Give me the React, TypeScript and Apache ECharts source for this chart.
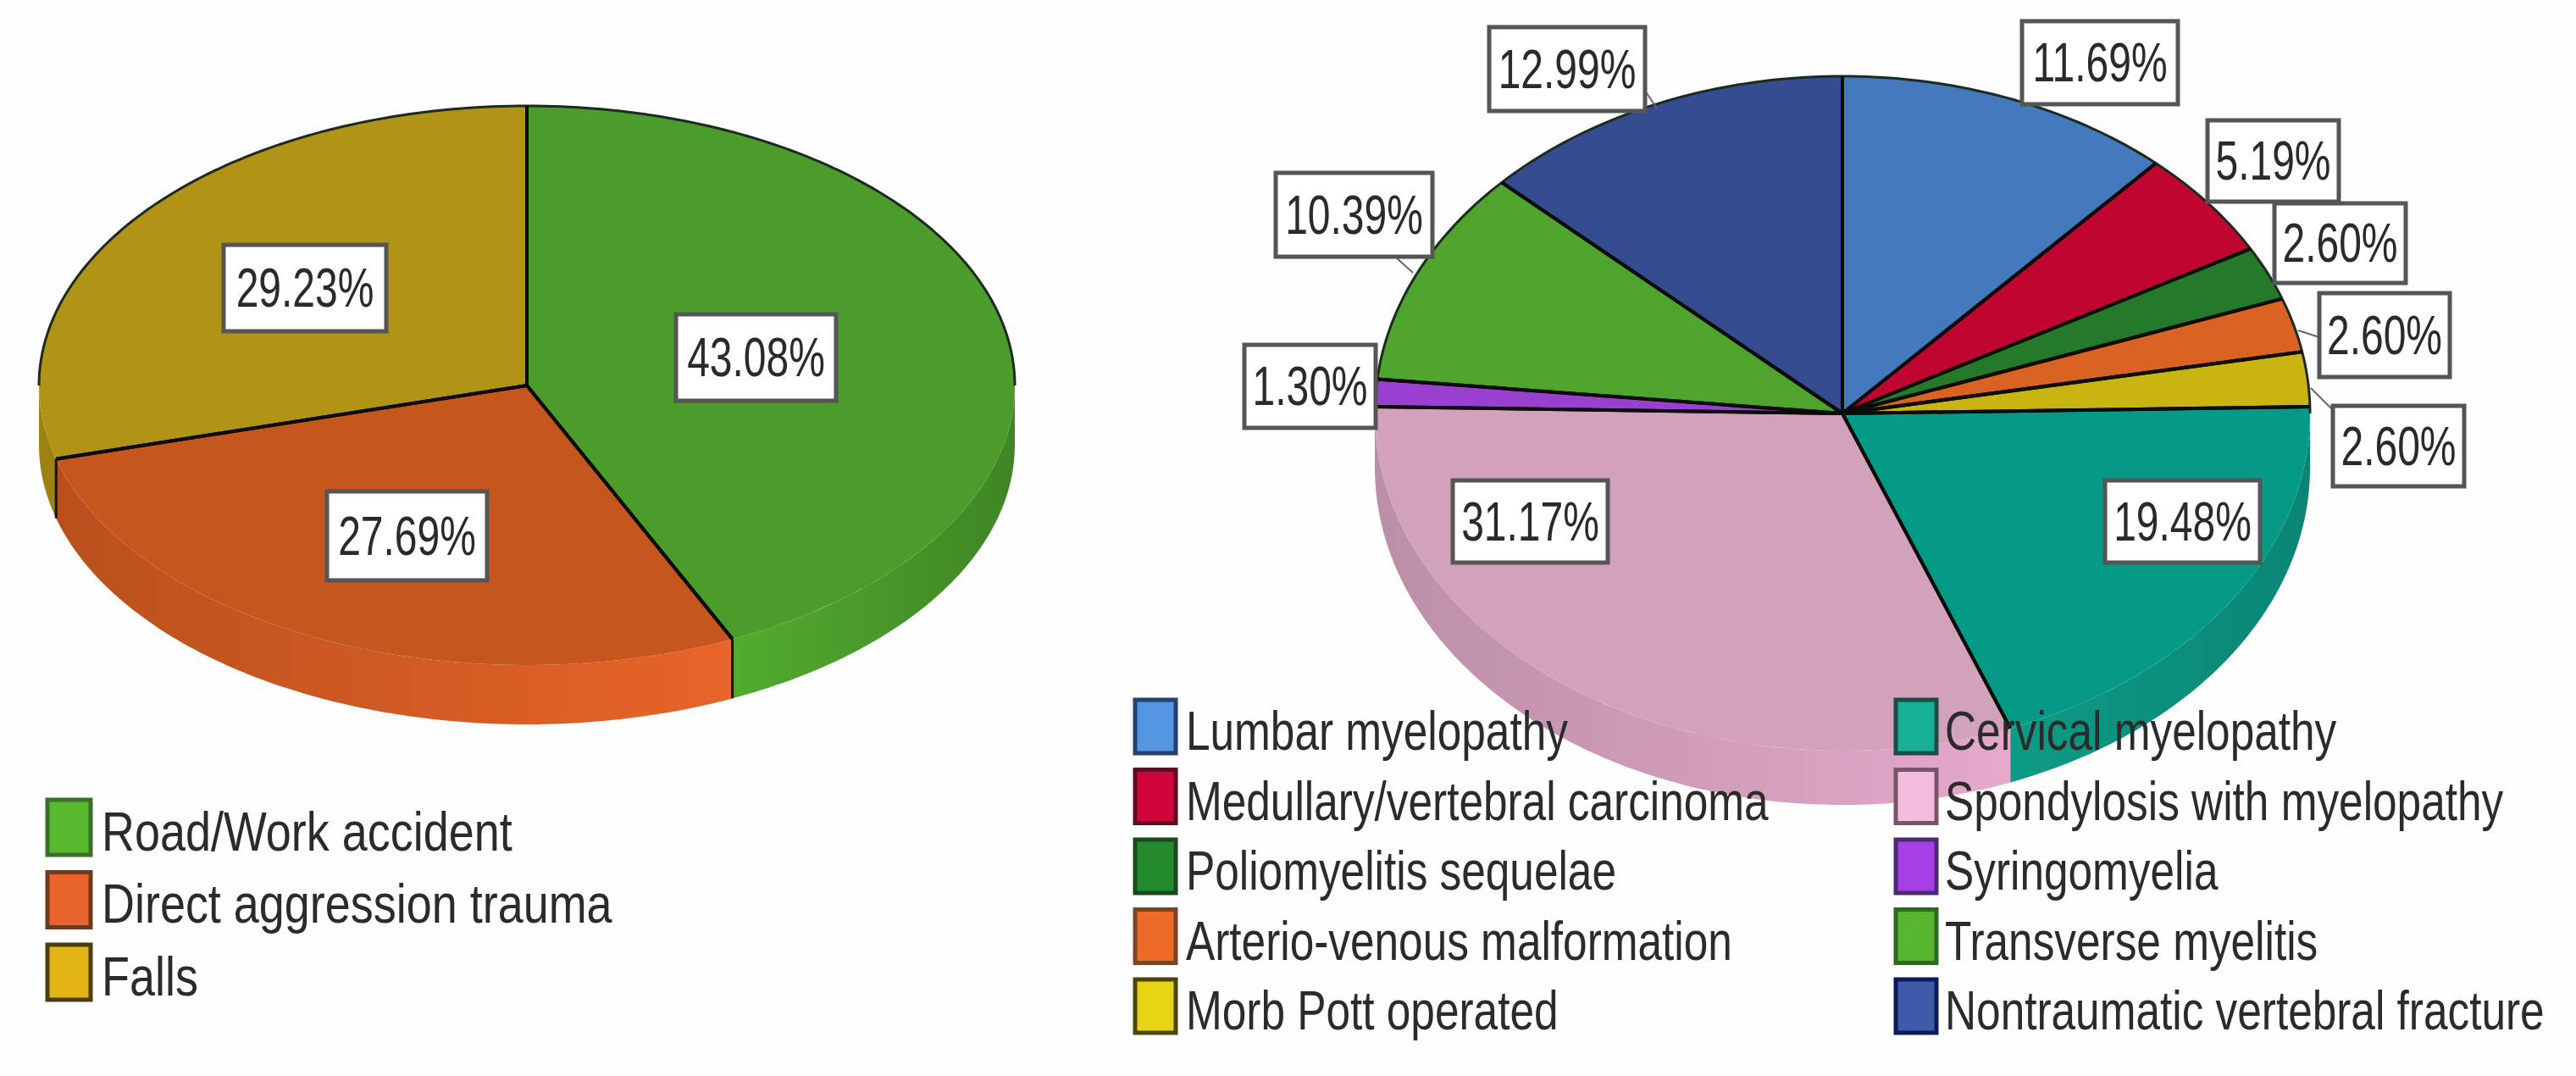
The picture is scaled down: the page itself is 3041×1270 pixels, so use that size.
import React, { useEffect, useRef } from "react";
import * as echarts from "echarts";

const FONT = '"Liberation Sans", Arial, sans-serif';

// ---------- Data ----------
const injuryNames = ["Road/Work accident", "Direct aggression trauma", "Falls"];
const injuryValues = [43.08, 27.69, 29.23];

const diseaseNames = [
  "Lumbar myelopathy",
  "Medullary/vertebral carcinoma",
  "Poliomyelitis sequelae",
  "Arterio-venous malformation",
  "Morb Pott operated",
  "Cervical myelopathy",
  "Spondylosis with myelopathy",
  "Syringomyelia",
  "Transverse myelitis",
  "Nontraumatic vertebral fracture",
];
const diseaseValues = [11.69, 5.19, 2.6, 2.6, 2.6, 19.48, 31.17, 1.3, 10.39, 12.99];

// ---------- Colours ----------
const injurySwatch = ["#58b92f", "#e8642c", "#e2b414"];
const injuryBorder = ["#3c6f2a", "#6d3a1c", "#4a3d10"];
const injuryTop = ["#4b9c2b", "#c5561d", "#b19315"];
const injuryWall = [["#52ac2e", "#3f8526"], ["#b9501c", "#e8642a"], ["#9c8210", "#9c8210"]];

const diseaseSwatch = ["#5596e3", "#d0063a", "#238a2e", "#ee6a28", "#e6d414", "#17b096", "#f4bcdc", "#a63fe6", "#58b52f", "#3d5ba8"];
const diseaseBorder = ["#26416e", "#5c0f22", "#1a4a20", "#7a4426", "#4c4508", "#1c4c48", "#7a5468", "#4c2a70", "#2c6a20", "#0c1c58"];
const diseaseTop = ["#4379bd", "#bf0530", "#247a2a", "#da6222", "#c9b412", "#049a85", "#d2a1bb", "#9a40d0", "#4fa42e", "#364c90"];
const diseaseWall = [
  ["#4379bd", "#4379bd"], ["#bf0530", "#bf0530"], ["#247a2a", "#247a2a"], ["#da6222", "#da6222"], ["#c9b412", "#c9b412"],
  ["#0d9b85", "#0a8574"], ["#bb8fa8", "#e6a8cb"], ["#9a40d0", "#9a40d0"], ["#4fa42e", "#4fa42e"], ["#364c90", "#364c90"],
];

// ---------- Layout ----------
const injuryGeom = { cx: 622, cy: 455, rx: 576, ry: 330, depth: 70, wallEdge: 3 };
const diseaseGeom = { cx: 2175, cy: 488, rx: 552, ry: 398, depth: 64, wallEdge: 0 };

// label boxes: left, top, right, bottom
const injuryBoxes = [[798, 371, 987, 473], [386, 580, 575, 685], [264, 289, 456, 391]];
const diseaseBoxes = [
  [2387, 25, 2571, 123], [2606, 142, 2761, 238], [2685, 240, 2840, 334], [2738, 346, 2892, 445], [2754, 479, 2909, 574],
  [2485, 567, 2668, 664], [1715, 567, 1898, 664], [1469, 407, 1624, 505], [1506, 204, 1691, 303], [1758, 32, 1942, 131],
];
// leader lines from a box to the pie's rim (null where no leader shows)
const injuryLeaders: (number[] | null)[] = [null, null, null];
const diseaseLeaders: (number[] | null)[] = [
  null, null, null, [2713, 390, 2738, 398], [2728, 458, 2754, 484],
  null, null, null, [1647, 303, 1668, 322], [1942, 107, 1956, 128],
];

// legend rows: swatch left, swatch top, swatch width, swatch height, text left, text width factor
const injuryLegend = [0, 1, 2].map((r) => [56, 944 + r * 85.5, 51, 65, 120, 0.83]);
const diseaseLegend = [0, 1, 2, 3, 4, 0, 1, 2, 3, 4].map((r, i) => [i < 5 ? 1340 : 2238, 826 + r * 82.5, 48, 63, i < 5 ? 1400 : 2296, 0.79]);

const pt = (g: any, deg: number, dy = 0) => {
  const t = (deg * Math.PI) / 180;
  return [g.cx + g.rx * Math.sin(t), g.cy - g.ry * Math.cos(t) + dy];
};
const arc = (g: any, a: number, b: number, dy = 0) => {
  const pts: number[][] = [];
  const n = Math.max(2, Math.ceil(Math.abs(b - a)));
  for (let k = 0; k <= n; k++) pts.push(pt(g, a + ((b - a) * k) / n, dy));
  return pts;
};

function buildSeries(names: string[], values: number[], swatch: string[], border: string[], top: string[], wall: string[][], g: any, boxes: number[][], leaders: (number[] | null)[], legendRows: number[][]) {
  const total = values.reduce((s, v) => s + v, 0);
  return names.map((name, i) => ({
    type: "custom",
    name,
    coordinateSystem: "none",
    silent: true,
    z: 2,
    itemStyle: { color: swatch[i] },
    data: [[values[i]]],
    renderItem: (_p: any, api: any) => {
      const v = api.value(0);
      const before = values.slice(0, i).reduce((s, x) => s + x, 0);
      const a = (before / total) * 360;
      const b = ((before + v) / total) * 360;
      const children: any[] = [];
      // side wall: only the front half of the rim
      const wa = Math.max(a, 90);
      const wb = Math.min(b, 270);
      if (wb > wa) {
        const upper = arc(g, wa, wb);
        const lower = arc(g, wa, wb, g.depth).reverse();
        children.push({
          type: "polygon",
          z2: 1,
          shape: { points: upper.concat(lower) },
          style: {
            fill: new echarts.graphic.LinearGradient(0, 0, 1, 0, [
              { offset: 0, color: wall[i][0] },
              { offset: 1, color: wall[i][1] },
            ]),
          },
        });
        if (g.wallEdge > 0 && wb === b && b < 270) {
          const p = pt(g, b);
          children.push({
            type: "line",
            z2: 3,
            shape: { x1: p[0], y1: p[1], x2: p[0], y2: p[1] + g.depth },
            style: { stroke: "#15120a", lineWidth: g.wallEdge },
          });
        }
      }
      // top face
      children.push({
        type: "polygon",
        z2: 10,
        shape: { points: [[g.cx, g.cy]].concat(arc(g, a, b)) },
        style: { fill: top[i] },
      });
      // rim: dark along the back half only
      if (a < 90) children.push({ type: "polyline", z2: 12, shape: { points: arc(g, a, Math.min(b, 90)) }, style: { stroke: "#1c2a20", lineWidth: 3, fill: "none" } });
      if (b > 270) children.push({ type: "polyline", z2: 12, shape: { points: arc(g, Math.max(a, 270), b) }, style: { stroke: "#1c2a20", lineWidth: 3, fill: "none" } });
      // radial separators
      for (const d of [a, b]) {
        const p = pt(g, d);
        children.push({
          type: "line",
          z2: 14,
          shape: { x1: g.cx, y1: g.cy, x2: p[0], y2: p[1] },
          style: { stroke: "#0c0c08", lineWidth: 4 },
        });
      }
      // percentage label
      const [l, t, r, bt] = boxes[i];
      const lead = leaders[i];
      if (lead) {
        children.push({
          type: "line",
          z2: 20,
          shape: { x1: lead[0], y1: lead[1], x2: lead[2], y2: lead[3] },
          style: { stroke: "#666", lineWidth: 2 },
        });
      }
      children.push({
        type: "rect",
        z2: 30,
        shape: { x: l, y: t, width: r - l, height: bt - t },
        style: { fill: "#ffffff", stroke: "#555555", lineWidth: 5 },
      });
      children.push({
        type: "text",
        z2: 31,
        x: (l + r) / 2,
        y: (t + bt) / 2,
        scaleX: 0.75,
        style: {
          x: 0,
          y: 0,
          text: v.toFixed(2) + "%",
          fill: "#2a2a2a",
          font: `64px ${FONT}`,
          align: "center",
          verticalAlign: "middle",
        },
      });
      // legend row
      const [sx, sy, sw, sh, tx, tf] = legendRows[i];
      children.push({
        type: "rect",
        z2: 40,
        shape: { x: sx, y: sy, width: sw, height: sh },
        style: { fill: swatch[i], stroke: border[i], lineWidth: 5 },
      });
      children.push({
        type: "text",
        z2: 41,
        x: tx,
        y: sy + sh / 2 + 5,
        scaleX: tf,
        style: {
          x: 0,
          y: 0,
          text: name,
          fill: "#2b2b2b",
          font: `65px ${FONT}`,
          align: "left",
          verticalAlign: "middle",
        },
      });
      return { type: "group", children };
    },
  }));
}

export default function App() {
  const ref = useRef<HTMLDivElement>(null);
  useEffect(() => {
    const chart = echarts.init(ref.current!, null, { renderer: "svg" });
    chart.setOption({
      animation: false,
      backgroundColor: "#fefefe",
      series: [
        ...buildSeries(injuryNames, injuryValues, injurySwatch, injuryBorder, injuryTop, injuryWall, injuryGeom, injuryBoxes, injuryLeaders, injuryLegend),
        ...buildSeries(diseaseNames, diseaseValues, diseaseSwatch, diseaseBorder, diseaseTop, diseaseWall, diseaseGeom, diseaseBoxes, diseaseLeaders, diseaseLegend),
      ],
    });
    return () => chart.dispose();
  }, []);
  return <div ref={ref} style={{ position: "absolute", left: 0, top: 0, width: 3041, height: 1270 }} />;
}
